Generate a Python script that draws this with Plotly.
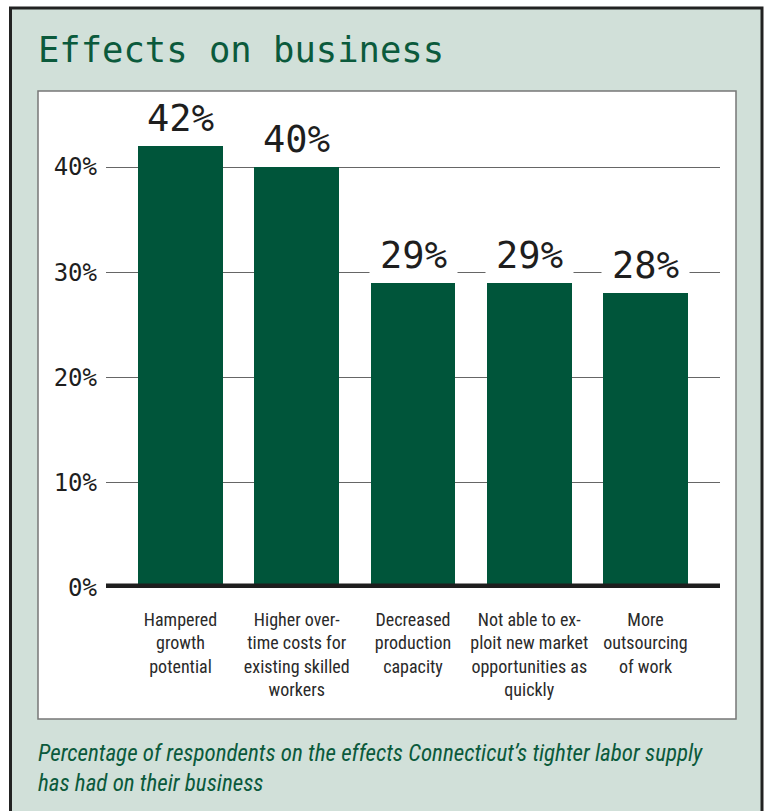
import plotly.graph_objects as go

# Survey data
categories = [
    "Hampered<br>growth<br>potential",
    "Higher over-<br>time costs for<br>existing skilled<br>workers",
    "Decreased<br>production<br>capacity",
    "Not able to ex-<br>ploit new market<br>opportunities as<br>quickly",
    "More<br>outsourcing<br>of work",
]
values = [42, 40, 29, 29, 28]
y_ticks = [0, 10, 20, 30, 40]
y_tick_labels = ["0%", "10%", "20%", "30%", "40%"]

W, H = 765, 811
L, R, T, B = 106, 45, 100, 223
plot_w = W - L - R
plot_h = H - T - B

def px(x):
    return (x - L) / plot_w

def py(y):
    return (H - B - y) / plot_h

GREEN = "#00553a"
PANEL = "#d1e0d9"
DIGI = "DejaVu Sans Mono"
COND = "Liberation Sans Narrow, Roboto Condensed, Roboto, sans-serif"

x_idx = list(range(len(values)))

fig = go.Figure()
fig.add_trace(go.Bar(
    x=x_idx, y=values, width=0.73,
    marker=dict(color=GREEN, line=dict(width=0)),
    hoverinfo="skip",
))

shapes = [
    # outer panel
    dict(type="rect", xref="paper", yref="paper", layer="below",
         x0=px(10.5), x1=px(762), y0=py(8), y1=py(830),
         fillcolor=PANEL, line=dict(color="#222222", width=3)),
    # white chart box
    dict(type="rect", xref="paper", yref="paper", layer="below",
         x0=px(38), x1=px(736), y0=py(91), y1=py(719),
         fillcolor="white", line=dict(color="#777777", width=1.5)),
    # thick baseline
    dict(type="line", xref="paper", yref="y", layer="above",
         x0=0, x1=1, y0=0, y1=0, line=dict(color="#1e1e1e", width=9)),
]

annotations = []
for i, v in enumerate(values):
    annotations.append(dict(
        x=i, y=v, xref="x", yref="y", text=f"{v}%", showarrow=False,
        xanchor="center", yanchor="bottom", yshift=4,
        width=85, bgcolor="white",
        font=dict(family=DIGI, size=37, color="#1e1e1e"),
    ))

annotations.append(dict(
    x=px(36), y=py(50), xref="paper", yref="paper",
    text="Effects on business", showarrow=False,
    xanchor="left", yanchor="middle",
    font=dict(family=DIGI, size=35.5, color="#0b5a3c"),
))
annotations.append(dict(
    x=px(36), y=py(768), xref="paper", yref="paper",
    text="Percentage of respondents on the effects Connecticut\u2019s tighter labor supply<br>has had on their business",
    showarrow=False, xanchor="left", yanchor="middle", align="left",
    font=dict(family=COND, size=23, color="#0b5a3c", style="italic"),
))

fig.update_layout(
    width=W, height=H,
    margin=dict(l=L, r=R, t=T, b=B, pad=0),
    paper_bgcolor="white",
    plot_bgcolor="rgba(0,0,0,0)",
    showlegend=False,
    bargap=0,
    shapes=shapes,
    annotations=annotations,
    xaxis=dict(
        range=[-0.641, 4.641], tickmode="array", tickvals=x_idx,
        ticktext=categories, showgrid=False, zeroline=False, showline=False,
        ticks="", ticklabelstandoff=19, fixedrange=True,
        tickfont=dict(family=COND, size=18, color="#2a2a2a"),
    ),
    yaxis=dict(
        range=[0, (H - B - T) / 105.25 * 10], tickmode="array",
        tickvals=y_ticks, ticktext=y_tick_labels,
        showgrid=True, gridcolor="#666666", gridwidth=1,
        zeroline=False, showline=False, ticks="", ticklabelstandoff=8,
        fixedrange=True,
        tickfont=dict(family=DIGI, size=24, color="#1e1e1e"),
    ),
)

fig.write_html("out.html")
